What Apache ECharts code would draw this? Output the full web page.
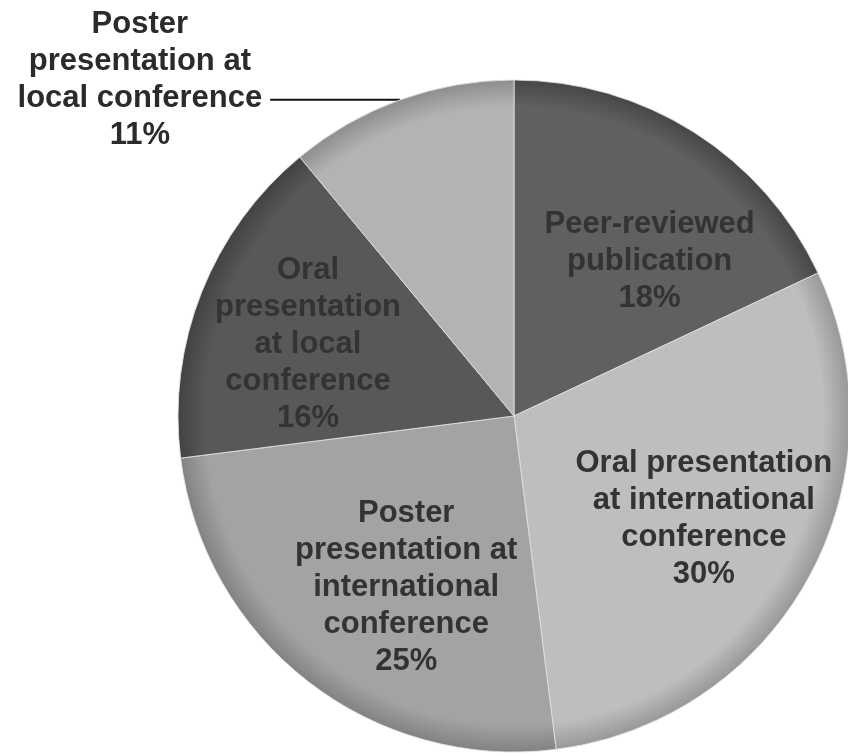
<!DOCTYPE html>
<html>
<head>
<meta charset="utf-8">
<script src="https://cdn.jsdelivr.net/npm/echarts@6/dist/echarts.min.js"></script>
<style>
html,body{margin:0;padding:0;background:#fff;}
#chart{width:848px;height:756px;}
</style>
</head>
<body>
<div id="chart"></div>
<script>
// Data
const categories = [
  'Peer-reviewed\npublication',
  'Oral presentation\nat international\nconference',
  'Poster\npresentation at\ninternational\nconference',
  'Oral\npresentation\nat local\nconference',
  'Poster\npresentation at\nlocal conference'
];
const values = [18, 30, 25, 16, 11];

// Styling (kept separate from the data)
const baseColors = ['#606060', '#bebebe', '#a3a3a3', '#585858', '#b3b3b3'];
const rimColors  = ['#474747', '#989898', '#828282', '#424242', '#8e8e8e'];
const labelShift = [[44, -10], [40, 21], [-3, 36], [-47, -9], [-3, -20]];
const outsideIndex = 4;

const CX = 514, CY = 416, R = 336;

const chart = echarts.init(document.getElementById('chart'), null, {renderer: 'canvas'});

const data = categories.map((name, i) => {
  const item = {
    name: name,
    value: values[i],
    itemStyle: {
      color: {
        type: 'radial', x: CX, y: CY, r: R, global: true,
        colorStops: [
          {offset: 0, color: baseColors[i]},
          {offset: 0.92, color: baseColors[i]},
          {offset: 1, color: rimColors[i]}
        ]
      }
    }
  };
  if (i === outsideIndex) {
    item.label = {
      position: 'outside',
      color: '#2b2b2b',
      distanceToLabelLine: 5,
      formatter: function (p) {
        return p.name.split('\n').concat([p.value + '%']).map(s => '{t|' + s + '}').join('\n');
      },
      rich: {
        t: {
          align: 'center',
          fontFamily: '"Liberation Sans", Arial, sans-serif',
          fontWeight: 'bold',
          fontSize: 31,
          lineHeight: 37,
          color: '#2b2b2b'
        }
      }
    };
    item.labelLine = {
      show: true,
      length: 0,
      length2: 130,
      smooth: false,
      lineStyle: {color: '#111', width: 2}
    };
  }
  return item;
});

chart.setOption({
  animation: false,
  backgroundColor: '#ffffff',
  series: [{
    type: 'pie',
    center: [CX, CY],
    radius: [0, R],
    startAngle: 90,
    clockwise: true,
    avoidLabelOverlap: false,
    data: data,
    itemStyle: {
      borderColor: 'rgba(225,225,225,0.85)',
      borderWidth: 1
    },
    label: {
      show: true,
      position: 'inside',
      formatter: '{b}\n{c}%',
      fontFamily: '"Liberation Sans", Arial, sans-serif',
      fontWeight: 'bold',
      fontSize: 31,
      lineHeight: 37,
      color: '#333333',
      align: 'center'
    },
    labelLine: {show: false},
    labelLayout: function (params) {
      const s = labelShift[params.dataIndex];
      if (!s) return {};
      return {dx: s[0], dy: s[1]};
    },
    emphasis: {disabled: true}
  }]
});
</script>
</body>
</html>
